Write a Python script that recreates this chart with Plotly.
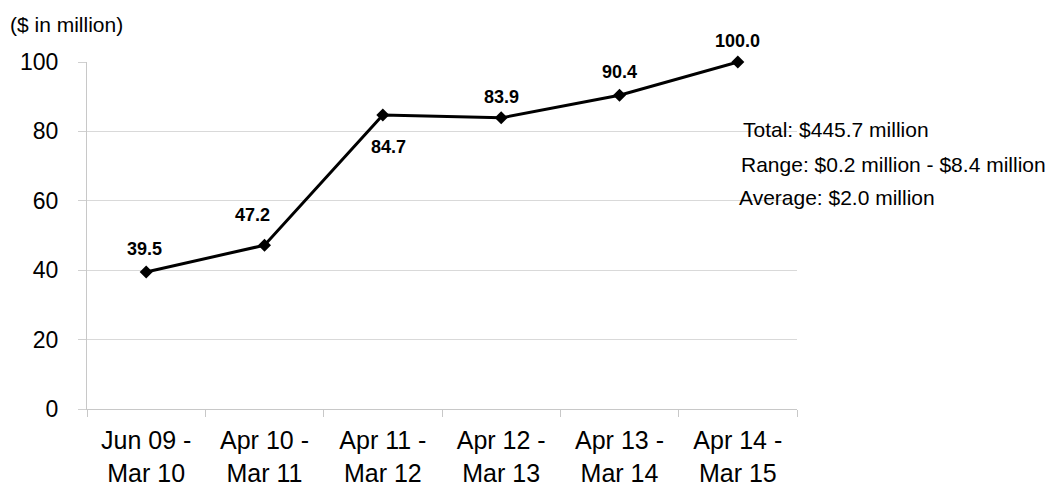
import plotly.graph_objects as go

periods = ["Jun 09 -<br>Mar 10", "Apr 10 -<br>Mar 11", "Apr 11 -<br>Mar 12",
           "Apr 12 -<br>Mar 13", "Apr 13 -<br>Mar 14", "Apr 14 -<br>Mar 15"]
values = [39.5, 47.2, 84.7, 83.9, 90.4, 100.0]
y_ticks = [0, 20, 40, 60, 80, 100]
summary_lines = ["Total: $445.7 million",
                 "Range: $0.2 million - $8.4 million",
                 "Average: $2.0 million"]

# pixel offsets of each value label from its marker
label_dx = [-2, -12, 6, 0, 0, 0]
label_dy = [23, 30, -32, 21, 23, 21]

FONT = "Liberation Sans, Arial, sans-serif"
L, R, T, B = 87, 255, 62, 76
PW, PH = 1052 - L - R, 485 - T - B

fig = go.Figure()
fig.add_trace(go.Scatter(
    x=periods, y=values,
    mode="lines+markers",
    line=dict(color="black", width=3),
    marker=dict(symbol="diamond", size=10, color="black"),
    cliponaxis=False,
    hoverinfo="skip",
))

for cat, v, dx, dy in zip(periods, values, label_dx, label_dy):
    fig.add_annotation(x=cat, y=v, text=f"{v:.1f}", showarrow=False,
                       xshift=dx, yshift=dy,
                       font=dict(family=FONT, size=18, color="black", weight="bold"))

fig.update_layout(
    width=1052, height=485,
    margin=dict(l=L, r=R, t=T, b=B),
    paper_bgcolor="white", plot_bgcolor="white",
    showlegend=False,
    font=dict(family=FONT, color="black"),
    xaxis=dict(
        type="category", range=[-0.5, 5.5], automargin=False,
        tickson="boundaries", ticks="outside", ticklen=7,
        tickcolor="#c8c8c8", showgrid=False,
        showline=True, linecolor="#c8c8c8", linewidth=1,
        tickfont=dict(size=25, family=FONT, color="black"),
        ticklabelstandoff=9,
        zeroline=False,
    ),
    yaxis=dict(
        range=[0, 100], tickvals=y_ticks, automargin=False,
        ticks="outside", ticklen=8, tickcolor="#d0d0d0",
        showgrid=True, gridcolor="#d9d9d9", gridwidth=1,
        showline=True, linecolor="#c8c8c8", linewidth=1,
        zeroline=False,
        ticklabelstandoff=15,
        tickfont=dict(size=23, family=FONT, color="black"),
    ),
)

fig.add_annotation(text="($ in million)", xref="paper", yref="paper",
                   x=(8 - L) / PW, y=(409 - 24) / PH, xanchor="left", yanchor="middle",
                   showarrow=False, font=dict(size=21, family=FONT))

summary_x = [741, 739, 737]
summary_y = [129, 164, 197.5]
for txt, px, py in zip(summary_lines, summary_x, summary_y):
    fig.add_annotation(text=txt, xref="paper", yref="paper",
                       x=(px - L) / PW, y=(409 - py) / PH,
                       xanchor="left", yanchor="middle", showarrow=False,
                       font=dict(size=21, family=FONT))

fig.write_html("out.html")
